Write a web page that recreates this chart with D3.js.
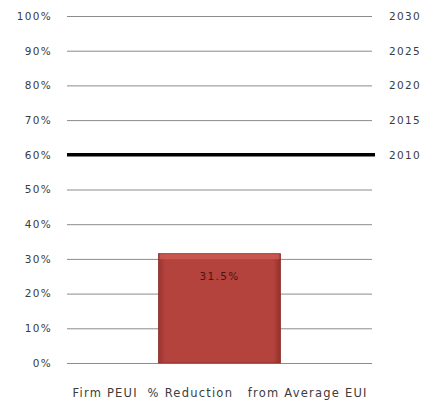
<!DOCTYPE html>
<html>
<head>
<meta charset="utf-8">
<script src="https://cdn.jsdelivr.net/npm/d3@7"></script>
<style>
html,body{margin:0;padding:0;background:#fff;}
svg{display:block;font-family:"DejaVu Sans",sans-serif;}
</style>
</head>
<body>
<svg id="chart" width="434" height="409"></svg>
<script>
// Data
const categories = ["Firm PEUI  % Reduction   from Average EUI"];
const values = [0.315];
const yTicks = [0, 0.1, 0.2, 0.3, 0.4, 0.5, 0.6, 0.7, 0.8, 0.9, 1.0];
const targetYears = ["2010", "2015", "2020", "2025", "2030"];
const targetValues = [0.6, 0.7, 0.8, 0.9, 1.0];
const currentTarget = "2010";

const svg = d3.select("#chart");
const margin = {left: 67, right: 62, top: 16, bottom: 46};
const W = 434, H = 409;
const txt = "#3c3c3c";

const y = d3.scaleLinear().domain([0, 1]).range([H - margin.bottom, margin.top]);
const x = d3.scaleBand().domain(categories).range([margin.left, W - margin.right]).paddingInner(0.6).paddingOuter(0.3);

// gradient for bar
const defs = svg.append("defs");
const g1 = defs.append("linearGradient").attr("id", "barGrad").attr("x1", "0").attr("x2", "1").attr("y1", "0").attr("y2", "0");
g1.append("stop").attr("offset", "0").attr("stop-color", "#9c3531");
g1.append("stop").attr("offset", "0.06").attr("stop-color", "#b4433d");
g1.append("stop").attr("offset", "0.94").attr("stop-color", "#b4433d");
g1.append("stop").attr("offset", "1").attr("stop-color", "#93302c");

// gridlines via axis
const grid = svg.append("g")
  .attr("transform", `translate(${margin.left},0)`)
  .call(d3.axisLeft(y).tickValues(yTicks).tickSize(-(W - margin.left - margin.right)).tickFormat(""));
grid.select(".domain").remove();
grid.selectAll(".tick line").attr("stroke", "#8c8c8c").attr("stroke-width", 1);

// left axis labels
const left = svg.append("g")
  .attr("transform", `translate(${margin.left - 15},0)`)
  .call(d3.axisLeft(y).tickValues(yTicks).tickSize(0).tickPadding(0).tickFormat(d3.format(".0%")));
left.select(".domain").remove();
left.selectAll(".tick text").attr("font-size", 10.5).attr("fill", txt)
  .attr("font-family", "DejaVu Sans, sans-serif").attr("letter-spacing", 1.3);

// current target thick line
const cur = targetValues[targetYears.indexOf(currentTarget)];
svg.append("line")
  .attr("x1", margin.left).attr("x2", W - margin.right + 3)
  .attr("y1", y(cur)).attr("y2", y(cur))
  .attr("stroke", "#000").attr("stroke-width", 3.5);

// right labels (target years)
const right = svg.append("g")
  .attr("transform", `translate(${W - margin.right + 17},0)`)
  .call(d3.axisRight(y).tickValues(targetValues).tickSize(0).tickPadding(0)
    .tickFormat(d => targetYears[targetValues.indexOf(d)]));
right.select(".domain").remove();
right.selectAll(".tick text").attr("font-size", 10.5).attr("fill", txt)
  .attr("font-family", "DejaVu Sans, sans-serif").attr("letter-spacing", 1.3);

// bar
const bars = svg.append("g").selectAll("g").data(categories).join("g");
bars.append("rect")
  .attr("x", (d) => x(d)).attr("width", x.bandwidth())
  .attr("y", (d, i) => y(values[i])).attr("height", (d, i) => y(0) - y(values[i]))
  .attr("fill", "url(#barGrad)").attr("stroke", "#8a2e2a").attr("stroke-width", 0.8);
bars.append("rect")
  .attr("x", (d) => x(d) + 1).attr("width", x.bandwidth() - 2)
  .attr("y", (d, i) => y(values[i]) + 0.5).attr("height", 5)
  .attr("fill", "#cc5a53").attr("opacity", 0.85);
bars.append("text")
  .attr("x", d => x(d) + x.bandwidth() / 2)
  .attr("y", (d, i) => y(values[i]) + 26)
  .attr("text-anchor", "middle")
  .attr("font-size", 10.5).attr("fill", "#4a1414").attr("letter-spacing", 1.3)
  .text((d, i) => d3.format(".1%")(values[i]));

// category axis label
svg.append("g").selectAll("text").data(categories).join("text")
  .attr("x", d => x(d) + x.bandwidth() / 2)
  .attr("y", y(0) + 34)
  .attr("text-anchor", "middle")
  .attr("font-size", 11.5).attr("fill", txt)
  .attr("textLength", 294).attr("lengthAdjust", "spacing")
  .style("white-space", "pre")
  .attr("xml:space", "preserve")
  .text(d => d);
</script>
</body>
</html>
